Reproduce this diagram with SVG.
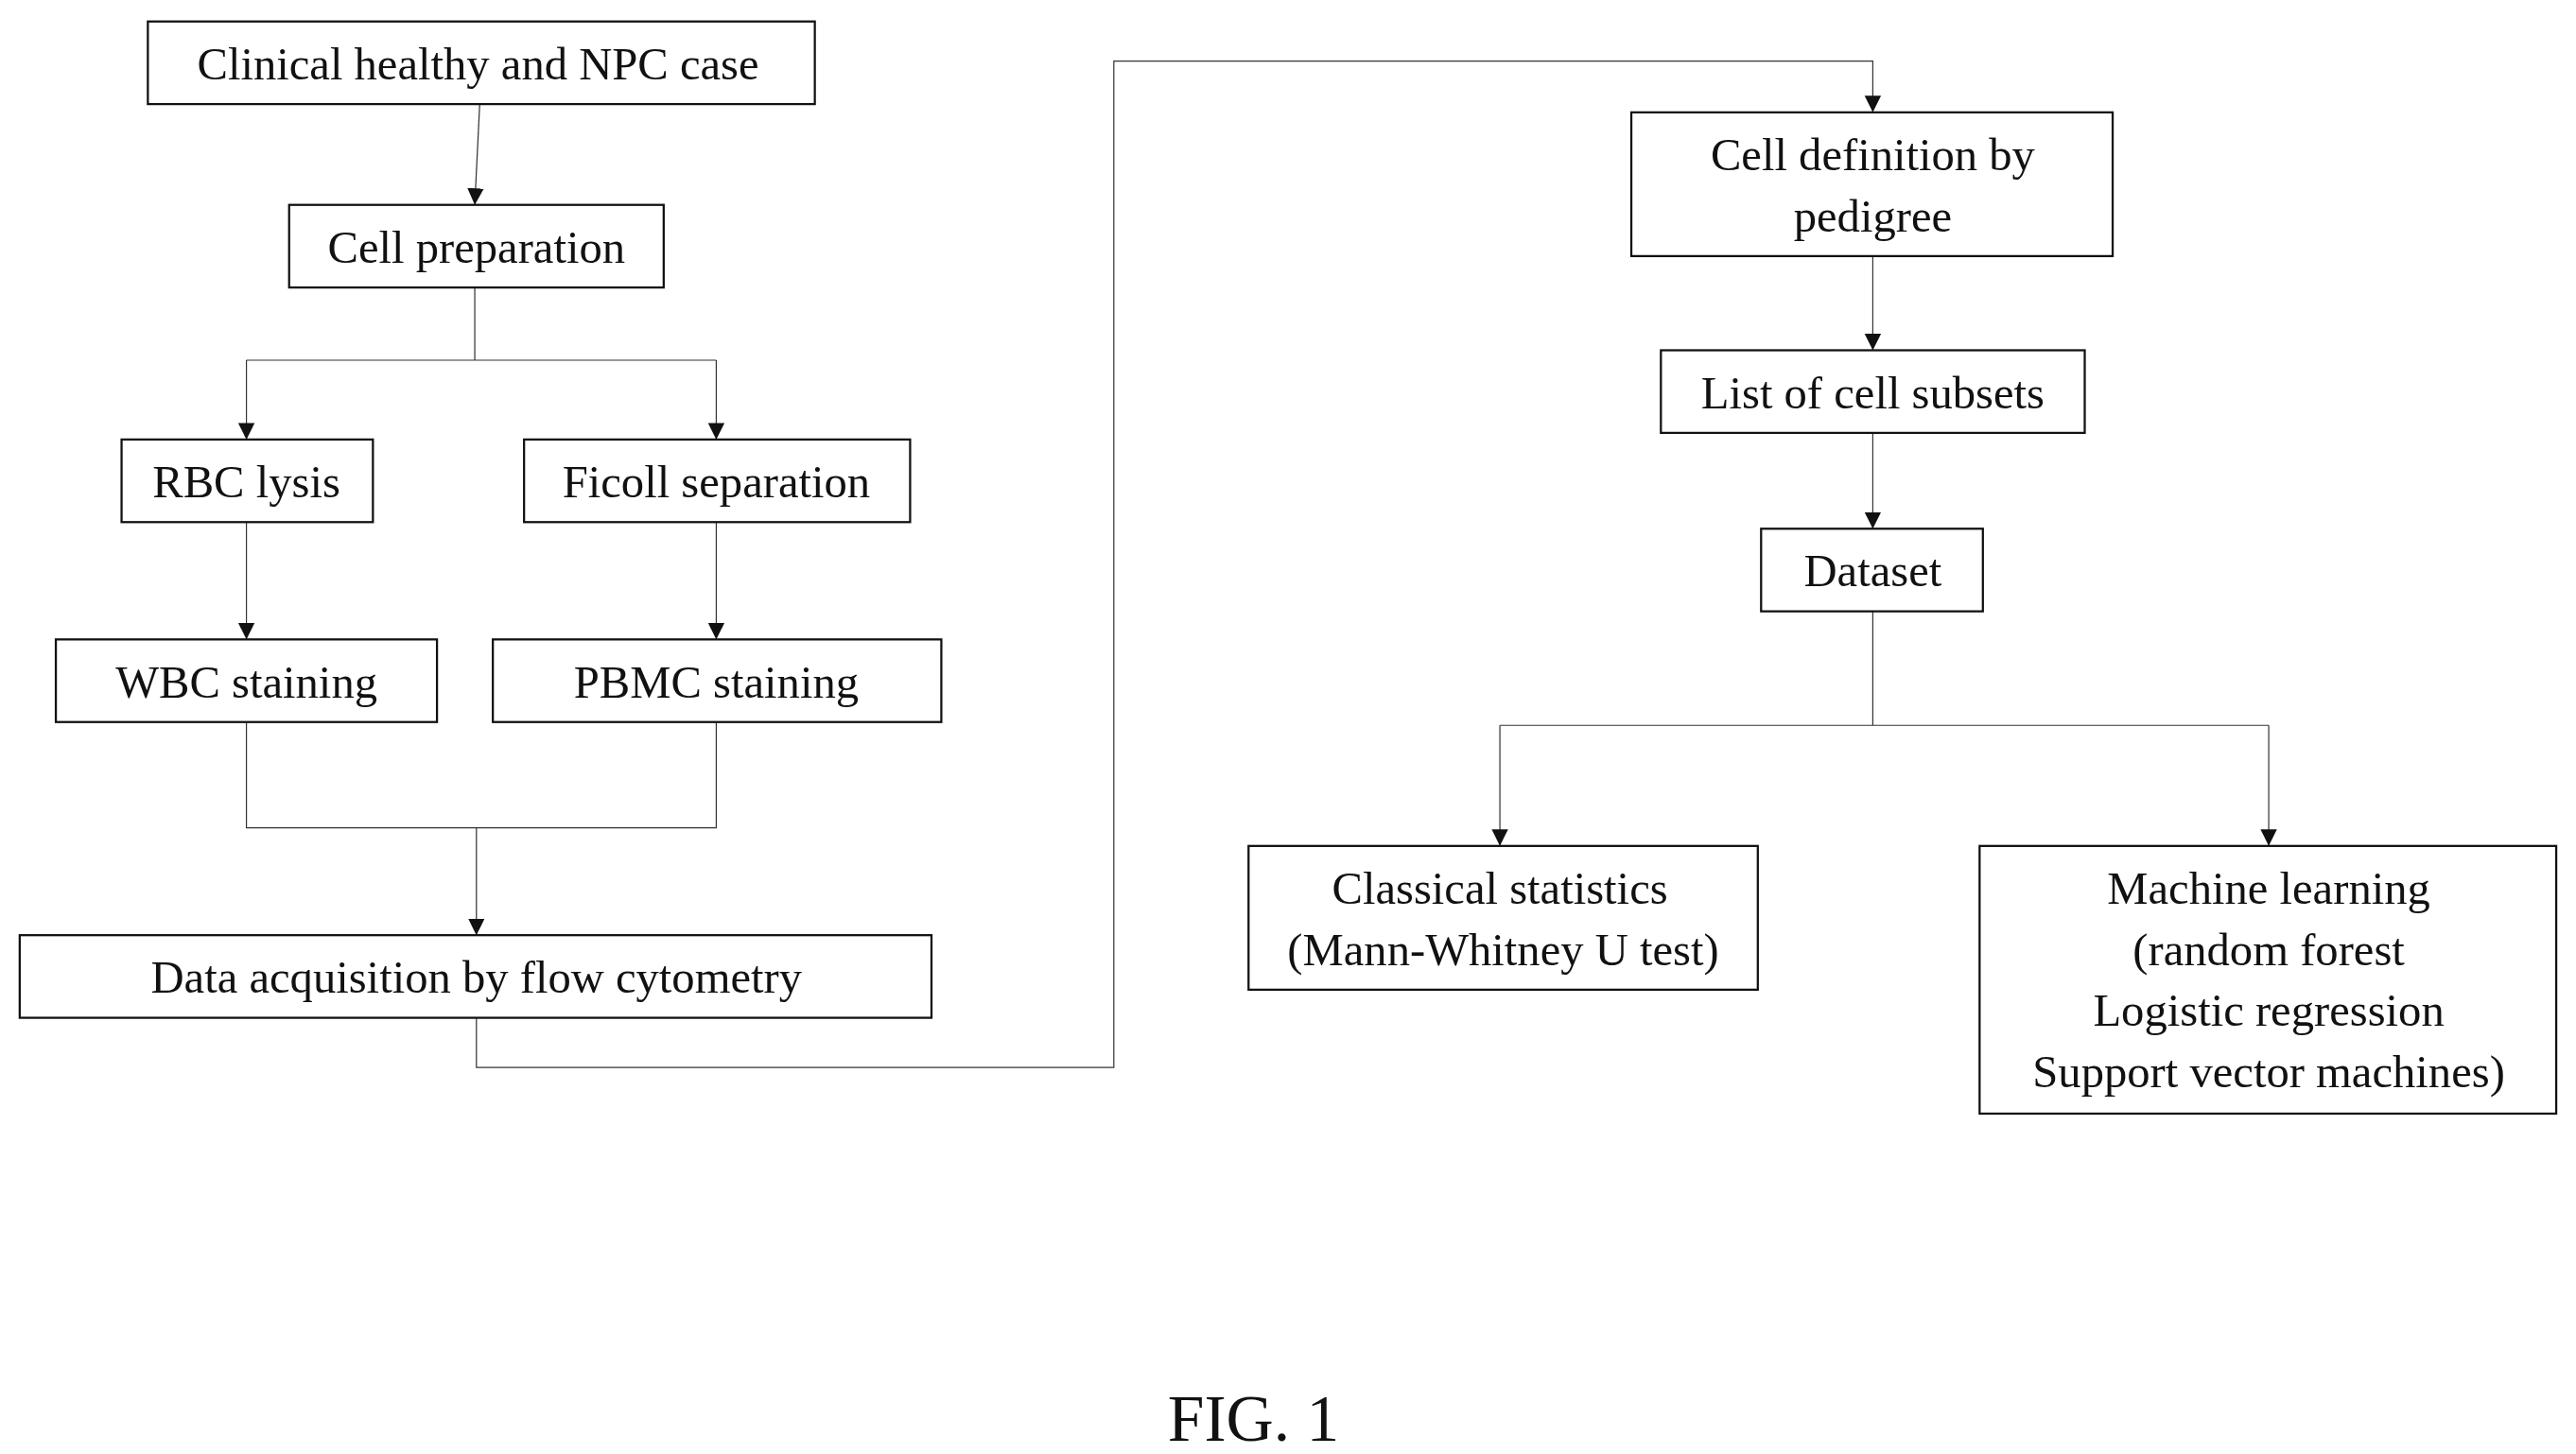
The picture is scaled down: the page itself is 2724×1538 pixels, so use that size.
<svg xmlns="http://www.w3.org/2000/svg" width="2724" height="1538" viewBox="0 0 2724 1538">
<defs>
<marker id="ar" markerWidth="10" markerHeight="12" refX="10" refY="6" orient="auto" markerUnits="userSpaceOnUse"><path d="M0,1 L10,6 L0,11 Z" fill="#111"/></marker>
<style>
rect{fill:#fff;stroke:#111;stroke-width:1.3}
text{font-family:"Liberation Serif","Times New Roman",serif;font-size:28px;fill:#111;text-anchor:middle}
.c{fill:none;stroke:#333;stroke-width:0.7}
.a{marker-end:url(#ar)}
</style>
</defs>
<rect x="0" y="0" width="2724" height="1538" style="fill:#fff;stroke:none"/>
<g transform="scale(1.7372,1.7477)">
<g id="connectors">
<path class="c a" d="M292,63 L289,124"/>
<path class="c" d="M289,174 V218 M150,218 H436"/>
<path class="c a" d="M150,218 V266"/>
<path class="c a" d="M436,218 V266"/>
<path class="c a" d="M150,316 V387"/>
<path class="c a" d="M436,316 V387"/>
<path class="c" d="M150,437 V501 H436 V437"/>
<path class="c a" d="M290,501 V566"/>
<path class="c a" d="M290,616 V646 H678 V37 H1140 V68"/>
<path class="c a" d="M1140,155 V212"/>
<path class="c a" d="M1140,262 V320"/>
<path class="c" d="M1140,370 V439 M913,439 H1381"/>
<path class="c a" d="M913,439 V512"/>
<path class="c a" d="M1381,439 V512"/>
</g>
<g id="n1"><rect x="90" y="13" width="406" height="50"/><text x="291" y="48">Clinical healthy and NPC case</text></g>
<g id="n2"><rect x="176" y="124" width="228" height="50"/><text x="290" y="159">Cell preparation</text></g>
<g id="n3"><rect x="74" y="266" width="153" height="50"/><text x="150" y="301">RBC lysis</text></g>
<g id="n4"><rect x="319" y="266" width="235" height="50"/><text x="436" y="301">Ficoll separation</text></g>
<g id="n5"><rect x="34" y="387" width="232" height="50"/><text x="150" y="422">WBC staining</text></g>
<g id="n6"><rect x="300" y="387" width="273" height="50"/><text x="436" y="422">PBMC staining</text></g>
<g id="n7"><rect x="12" y="566" width="555" height="50"/><text x="290" y="601">Data acquisition by flow cytometry</text></g>
<g id="n8"><rect x="993" y="68" width="293" height="87"/><text x="1140" y="103">Cell definition by</text><text x="1140" y="140">pedigree</text></g>
<g id="n9"><rect x="1011" y="212" width="258" height="50"/><text x="1140" y="247">List of cell subsets</text></g>
<g id="n10"><rect x="1072" y="320" width="135" height="50"/><text x="1140" y="355">Dataset</text></g>
<g id="n11"><rect x="760" y="512" width="310" height="87"/><text x="913" y="547">Classical statistics</text><text x="915" y="584">(Mann-Whitney U test)</text></g>
<g id="n12"><rect x="1205" y="512" width="351" height="162"/><text x="1381" y="547">Machine learning</text><text x="1381" y="584">(random forest</text><text x="1381" y="621">Logistic regression</text><text x="1381" y="658">Support vector machines)</text></g>
<text x="763" y="872" style="font-size:40px">FIG. 1</text>
</g>
</svg>
